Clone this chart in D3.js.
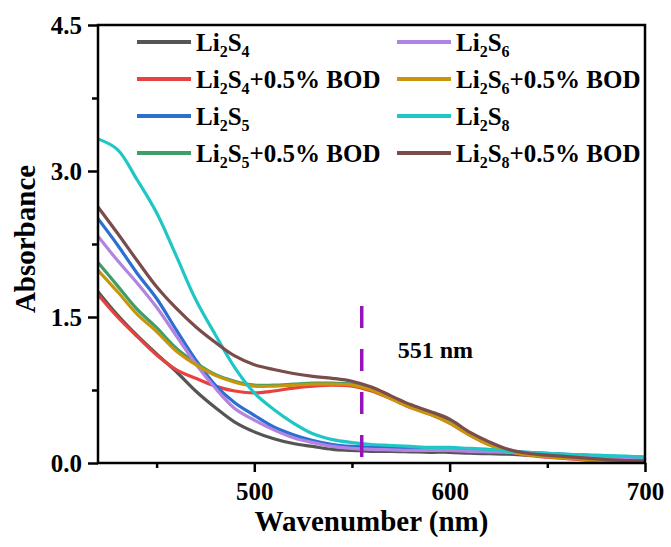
<!DOCTYPE html>
<html><head><meta charset="utf-8">
<script src="https://cdn.jsdelivr.net/npm/d3@7"></script>
<style>
html,body{margin:0;padding:0;background:#fff;}
svg text{font-family:"Liberation Serif","Times New Roman",serif;font-weight:bold;fill:#000;}
</style></head>
<body><svg id="c" width="671" height="547"></svg>
<script>
// wavelengths (nm)
const wavelengths = [420,430,440,450,460,470,480,490,500,510,520,530,540,550,560,570,580,590,600,610,620,630,640,650,660,670,680,690,700];
const seriesNames = ["Li2S4","Li2S4+0.5% BOD","Li2S5","Li2S5+0.5% BOD","Li2S6","Li2S6+0.5% BOD","Li2S8","Li2S8+0.5% BOD"];
const li2s4      = [1.76,1.52,1.31,1.12,0.94,0.74,0.57,0.42,0.32,0.25,0.20,0.17,0.14,0.13,0.12,0.12,0.115,0.11,0.11,0.10,0.095,0.09,0.08,0.07,0.06,0.055,0.05,0.045,0.04];
const li2s4BOD   = [1.73,1.50,1.30,1.11,0.96,0.87,0.79,0.74,0.72,0.74,0.77,0.79,0.80,0.79,0.74,0.66,0.57,0.50,0.41,0.29,0.19,0.12,0.08,0.06,0.045,0.03,0.02,0.015,0.01];
const li2s5      = [2.51,2.24,1.95,1.69,1.37,1.06,0.80,0.62,0.49,0.37,0.29,0.23,0.19,0.17,0.16,0.16,0.155,0.15,0.15,0.14,0.13,0.12,0.11,0.10,0.09,0.08,0.07,0.065,0.06];
const li2s5BOD   = [2.06,1.82,1.58,1.39,1.18,1.03,0.91,0.84,0.80,0.80,0.81,0.82,0.82,0.81,0.76,0.67,0.58,0.51,0.42,0.30,0.20,0.13,0.09,0.07,0.055,0.04,0.03,0.02,0.015];
const li2s6      = [2.33,2.08,1.85,1.60,1.31,1.02,0.77,0.56,0.44,0.34,0.26,0.21,0.17,0.15,0.14,0.135,0.13,0.13,0.13,0.12,0.115,0.11,0.10,0.09,0.08,0.07,0.06,0.055,0.05];
const li2s6BOD   = [1.98,1.76,1.53,1.35,1.15,1.01,0.90,0.83,0.79,0.79,0.80,0.81,0.81,0.80,0.75,0.66,0.57,0.50,0.41,0.29,0.19,0.12,0.085,0.065,0.05,0.035,0.025,0.018,0.012];
const li2s8      = [3.33,3.22,2.91,2.57,2.13,1.68,1.32,0.98,0.72,0.55,0.41,0.30,0.24,0.21,0.19,0.18,0.17,0.16,0.16,0.15,0.14,0.12,0.11,0.10,0.09,0.085,0.075,0.07,0.06];
const li2s8BOD   = [2.63,2.36,2.08,1.81,1.59,1.40,1.24,1.10,1.01,0.96,0.92,0.89,0.87,0.84,0.78,0.69,0.60,0.53,0.45,0.32,0.22,0.14,0.10,0.08,0.065,0.05,0.035,0.025,0.02];
const seriesValues = [li2s4,li2s4BOD,li2s5,li2s5BOD,li2s6,li2s6BOD,li2s8,li2s8BOD];
const colors = ["#555555","#e8413e","#2b6fd0","#3e9e68","#b283e0","#c8960c","#1fc6c6","#7a4c4c"];
const xTicks = [500,600,700];
const xMinor = [450,550,650];
const yTicks = [0,1.5,3.0,4.5];
const yMinor = [0.75,2.25,3.75];
const markerNm = 555;
const markerLabel = "551 nm";

const svg = d3.select("#c");
const L=98,R=645,T=25,B=463;
const x = d3.scaleLinear().domain([420,700]).range([L,R]);
const y = d3.scaleLinear().domain([0,4.5]).range([B,T]);

svg.append("clipPath").attr("id","clp").append("rect").attr("x",L).attr("y",T).attr("width",R-L).attr("height",B-T);

const line = d3.line().x(d=>x(d[0])).y(d=>y(d[1])).curve(d3.curveCatmullRom.alpha(0.5));
const g = svg.append("g").attr("clip-path","url(#clp)");
seriesValues.forEach((vals,i)=>{
  g.append("path").datum(wavelengths.map((w,j)=>[w,vals[j]]))
   .attr("d",line).attr("fill","none").attr("stroke",colors[i]).attr("stroke-width",3.2).attr("stroke-linejoin","round");
});

// marker dashed line
svg.append("line").attr("x1",x(markerNm)).attr("x2",x(markerNm)).attr("y1",306).attr("y2",B)
  .attr("stroke","#9513b8").attr("stroke-width",3.5).attr("stroke-dasharray","22,21");
svg.append("text").attr("x",x(markerNm)+36).attr("y",358).attr("font-size",24).text(markerLabel);

// axes
const xa = svg.append("g").attr("transform",`translate(0,${B})`)
  .call(d3.axisBottom(x).tickValues(xTicks).tickSize(9).tickFormat(d3.format("d")));
const xm = svg.append("g").attr("transform",`translate(0,${B})`)
  .call(d3.axisBottom(x).tickValues(xMinor).tickSize(5).tickFormat(""));
const ya = svg.append("g").attr("transform",`translate(${L},0)`)
  .call(d3.axisLeft(y).tickValues(yTicks).tickSize(10).tickPadding(6).tickFormat(d3.format(".1f")));
const ym = svg.append("g").attr("transform",`translate(${L},0)`)
  .call(d3.axisLeft(y).tickValues(yMinor).tickSize(6).tickFormat(""));
[xa,xm,ya,ym].forEach(a=>{
  a.select(".domain").remove();
  a.selectAll(".tick line").attr("stroke","#000").attr("stroke-width",2.5);
  a.selectAll("text").attr("font-size",25).attr("font-family","Liberation Serif").attr("font-weight","bold").attr("fill","#000");
});
xa.selectAll("text").attr("dy","1.0em");

svg.append("rect").attr("x",L).attr("y",T).attr("width",R-L).attr("height",B-T)
  .attr("fill","none").attr("stroke","#000").attr("stroke-width",2.5);

// titles
svg.append("text").attr("x",(L+R)/2).attr("y",531).attr("text-anchor","middle").attr("font-size",29).text("Wavenumber (nm)");
svg.append("text").attr("transform",`translate(35,239) rotate(-90)`).attr("text-anchor","middle").attr("font-size",29).text("Absorbance");

// legend
const legX = [137,397], legY = [42,79,116,153];
const order = [[0,4],[1,5],[2,6],[3,7]];
function label(t, name){
  const m = name.match(/^Li2S(\d)(.*)$/);
  t.append("tspan").text("Li");
  t.append("tspan").text("2").attr("font-size",16).attr("dy",6);
  t.append("tspan").text("S").attr("dy",-6);
  t.append("tspan").text(m[1]).attr("font-size",16).attr("dy",6);
  if(m[2]) t.append("tspan").text(m[2]).attr("dy",-6);
}
order.forEach((row,r)=>{
  row.forEach((si,c)=>{
    const lg = svg.append("g");
    lg.append("line").attr("x1",legX[c]).attr("x2",legX[c]+54).attr("y1",legY[r]).attr("y2",legY[r])
      .attr("stroke",colors[si]).attr("stroke-width",4);
    const t = lg.append("text").attr("x",legX[c]+59).attr("y",legY[r]+9).attr("font-size",25);
    label(t, seriesNames[si]);
  });
});
</script></body></html>
